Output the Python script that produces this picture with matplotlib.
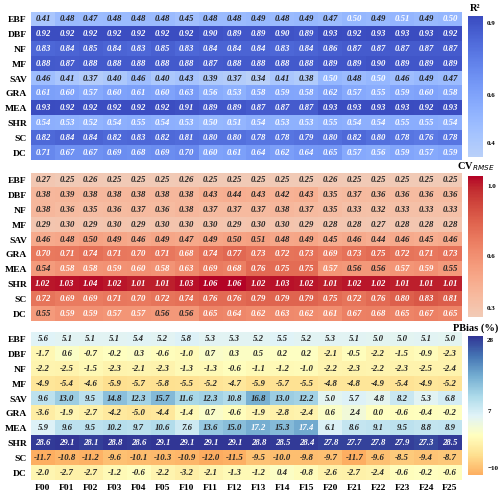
import numpy as np
import matplotlib
matplotlib.use('Agg')
import matplotlib.pyplot as plt
from matplotlib.colors import LinearSegmentedColormap

plt.rcParams['font.family'] = 'Liberation Serif'

# Data
rows = ['EBF', 'DBF', 'NF', 'MF', 'SAV', 'GRA', 'MEA', 'SHR', 'SC', 'DC']
cols = ['F00', 'F01', 'F02', 'F03', 'F04', 'F05', 'F10', 'F11', 'F12',
        'F13', 'F14', 'F15', 'F20', 'F21', 'F22', 'F23', 'F24', 'F25']

r2 = [
    [0.41, 0.48, 0.47, 0.48, 0.48, 0.48, 0.45, 0.48, 0.48, 0.49, 0.48, 0.49, 0.47, 0.50, 0.49, 0.51, 0.49, 0.50],
    [0.92, 0.92, 0.92, 0.92, 0.92, 0.92, 0.92, 0.90, 0.89, 0.89, 0.90, 0.89, 0.93, 0.92, 0.93, 0.93, 0.93, 0.92],
    [0.83, 0.84, 0.85, 0.84, 0.83, 0.85, 0.83, 0.84, 0.84, 0.84, 0.83, 0.84, 0.86, 0.87, 0.87, 0.87, 0.87, 0.87],
    [0.88, 0.87, 0.88, 0.88, 0.88, 0.88, 0.88, 0.87, 0.88, 0.88, 0.88, 0.88, 0.89, 0.89, 0.90, 0.89, 0.89, 0.89],
    [0.46, 0.41, 0.37, 0.40, 0.46, 0.40, 0.43, 0.39, 0.37, 0.34, 0.41, 0.38, 0.50, 0.48, 0.50, 0.46, 0.49, 0.47],
    [0.61, 0.60, 0.57, 0.60, 0.61, 0.60, 0.63, 0.56, 0.53, 0.58, 0.59, 0.58, 0.62, 0.57, 0.55, 0.59, 0.60, 0.58],
    [0.93, 0.92, 0.92, 0.92, 0.92, 0.92, 0.91, 0.89, 0.89, 0.87, 0.87, 0.87, 0.93, 0.93, 0.93, 0.93, 0.92, 0.93],
    [0.54, 0.53, 0.52, 0.54, 0.55, 0.54, 0.53, 0.50, 0.51, 0.54, 0.53, 0.53, 0.55, 0.54, 0.54, 0.55, 0.55, 0.54],
    [0.82, 0.84, 0.84, 0.82, 0.83, 0.82, 0.81, 0.80, 0.80, 0.78, 0.78, 0.79, 0.80, 0.82, 0.80, 0.78, 0.76, 0.78],
    [0.71, 0.67, 0.67, 0.69, 0.68, 0.69, 0.70, 0.60, 0.61, 0.64, 0.62, 0.64, 0.65, 0.57, 0.56, 0.59, 0.57, 0.59],
]

cvrmse = [
    [0.27, 0.25, 0.26, 0.25, 0.25, 0.25, 0.26, 0.25, 0.25, 0.25, 0.25, 0.25, 0.26, 0.25, 0.25, 0.25, 0.25, 0.25],
    [0.38, 0.39, 0.38, 0.38, 0.38, 0.38, 0.38, 0.43, 0.44, 0.43, 0.42, 0.43, 0.35, 0.37, 0.36, 0.36, 0.36, 0.36],
    [0.38, 0.36, 0.35, 0.36, 0.37, 0.36, 0.38, 0.37, 0.37, 0.37, 0.38, 0.37, 0.35, 0.33, 0.32, 0.33, 0.33, 0.33],
    [0.29, 0.30, 0.29, 0.30, 0.29, 0.30, 0.30, 0.30, 0.29, 0.30, 0.30, 0.29, 0.28, 0.28, 0.27, 0.28, 0.28, 0.28],
    [0.46, 0.48, 0.50, 0.49, 0.46, 0.49, 0.47, 0.49, 0.50, 0.51, 0.48, 0.49, 0.45, 0.46, 0.44, 0.46, 0.45, 0.46],
    [0.70, 0.71, 0.74, 0.71, 0.70, 0.71, 0.68, 0.74, 0.77, 0.73, 0.72, 0.73, 0.69, 0.73, 0.75, 0.72, 0.71, 0.73],
    [0.54, 0.58, 0.58, 0.59, 0.60, 0.58, 0.63, 0.69, 0.68, 0.76, 0.75, 0.75, 0.57, 0.56, 0.56, 0.57, 0.59, 0.55],
    [1.02, 1.03, 1.04, 1.02, 1.01, 1.01, 1.03, 1.06, 1.06, 1.02, 1.03, 1.02, 1.01, 1.02, 1.02, 1.01, 1.01, 1.01],
    [0.72, 0.69, 0.69, 0.71, 0.70, 0.72, 0.74, 0.76, 0.76, 0.79, 0.79, 0.79, 0.75, 0.72, 0.76, 0.80, 0.83, 0.81],
    [0.55, 0.59, 0.59, 0.57, 0.57, 0.56, 0.56, 0.65, 0.64, 0.62, 0.63, 0.62, 0.61, 0.67, 0.68, 0.65, 0.67, 0.65],
]

pbias = [
    [5.6, 5.1, 5.1, 5.1, 5.4, 5.2, 5.8, 5.3, 5.3, 5.2, 5.5, 5.2, 5.3, 5.1, 5.0, 5.0, 5.1, 5.0],
    [-1.7, 0.6, -0.7, -0.2, 0.3, -0.6, -1.0, 0.7, 0.3, 0.5, 0.2, 0.2, -2.1, -0.5, -2.2, -1.5, -0.9, -2.3],
    [-2.2, -2.5, -1.5, -2.3, -2.1, -2.3, -1.3, -1.3, -0.6, -1.1, -1.2, -1.0, -2.2, -2.3, -2.2, -2.3, -2.5, -2.4],
    [-4.9, -5.4, -4.6, -5.9, -5.7, -5.8, -5.5, -5.2, -4.7, -5.9, -5.7, -5.5, -4.8, -4.8, -4.9, -5.4, -4.9, -5.2],
    [9.6, 13.0, 9.5, 14.8, 12.3, 15.7, 11.6, 12.3, 10.8, 16.8, 13.0, 12.2, 5.0, 5.7, 4.8, 8.2, 5.3, 6.8],
    [-3.6, -1.9, -2.7, -4.2, -5.0, -4.4, -1.4, 0.7, -0.6, -1.9, -2.8, -2.4, 0.6, 2.4, 0.0, -0.6, -0.4, -0.2],
    [5.9, 9.6, 9.5, 10.2, 9.7, 10.6, 7.6, 13.6, 15.0, 17.2, 15.3, 17.4, 6.1, 8.6, 9.1, 9.5, 8.8, 8.9],
    [28.6, 29.1, 28.1, 28.8, 28.6, 29.1, 29.1, 29.1, 29.1, 28.8, 28.5, 28.4, 27.8, 27.7, 27.8, 27.9, 27.3, 28.5],
    [-11.7, -10.8, -11.2, -9.6, -10.1, -10.3, -10.9, -12.0, -11.5, -9.5, -10.0, -9.8, -9.7, -11.7, -9.6, -8.5, -9.4, -8.7],
    [-2.0, -2.7, -2.7, -1.2, -0.6, -2.2, -3.2, -2.1, -1.3, -1.2, 0.4, -0.8, -2.6, -2.7, -2.4, -0.6, -0.2, -0.6],
]

r2_ticks = [0.4, 0.6, 0.9]
cv_ticks = [0.3, 0.6, 1.0]
pb_ticks = [-10, 7, 28]


def sub_cmap(name, lo, hi, reverse=False):
    base = plt.get_cmap(name)
    c = base(np.linspace(lo, hi, 256))
    if reverse:
        c = c[::-1]
    return LinearSegmentedColormap.from_list(name + '_sub', c)


cm_r2 = sub_cmap('coolwarm', 0.0, 0.38, reverse=True)
cm_cv = sub_cmap('coolwarm', 0.6, 1.0)
cm_pb = sub_cmap('RdYlBu', 0.3, 1.0)

fig = plt.figure(figsize=(5, 4.97), dpi=100)

panels = [
    (r2, cm_r2, '{:.2f}', 0.495, r2_ticks, 'R²', 0.678, 0.684, 0.284),
    (cvrmse, cm_cv, '{:.2f}', 0.565, cv_ticks, r'CV$_{\mathit{RMSE}}$', 0.354, 0.362, 0.284),
    (pbias, cm_pb, '{:.1f}', 17.0, pb_ticks, 'PBias (%)', 0.034, 0.044, 0.280),
]

for i, (data, cmap, fmt, thr, ticks, title, hb, cb_b, cb_h) in enumerate(panels):
    arr = np.array(data)
    ax = fig.add_axes([0.062, hb, 0.862, 0.298])
    im = ax.imshow(arr, cmap=cmap, aspect='auto', interpolation='nearest',
                   vmin=arr.min(), vmax=arr.max())
    for r in range(arr.shape[0]):
        for c in range(arr.shape[1]):
            v = arr[r, c]
            ax.text(c, r, fmt.format(v), ha='center', va='center',
                    fontsize=6.3, fontweight='bold', fontstyle='italic',
                    color='white' if v >= thr else '#222222')
    ax.set_yticks(range(len(rows)))
    ax.set_yticklabels(rows, fontsize=6.8, fontweight='bold')
    if i == 2:
        ax.set_xticks(range(len(cols)))
        ax.set_xticklabels(cols, fontsize=6.8, fontweight='bold')
    else:
        ax.set_xticks([])
    ax.tick_params(length=0, pad=3)
    for s in ax.spines.values():
        s.set_visible(False)

    cax = fig.add_axes([0.936, cb_b, 0.030, cb_h])
    cb = fig.colorbar(im, cax=cax, ticks=ticks)
    cb.outline.set_visible(False)
    cb.ax.tick_params(length=0, labelsize=5, pad=3)
    for t in cb.ax.get_yticklabels():
        t.set_fontweight('bold')
    cax.text(0.5, 1.02, title, transform=cax.transAxes, ha='center' if i == 0 else 'center',
             va='bottom', fontsize=7.5, fontweight='bold')

fig.savefig('out.png', dpi=100)
